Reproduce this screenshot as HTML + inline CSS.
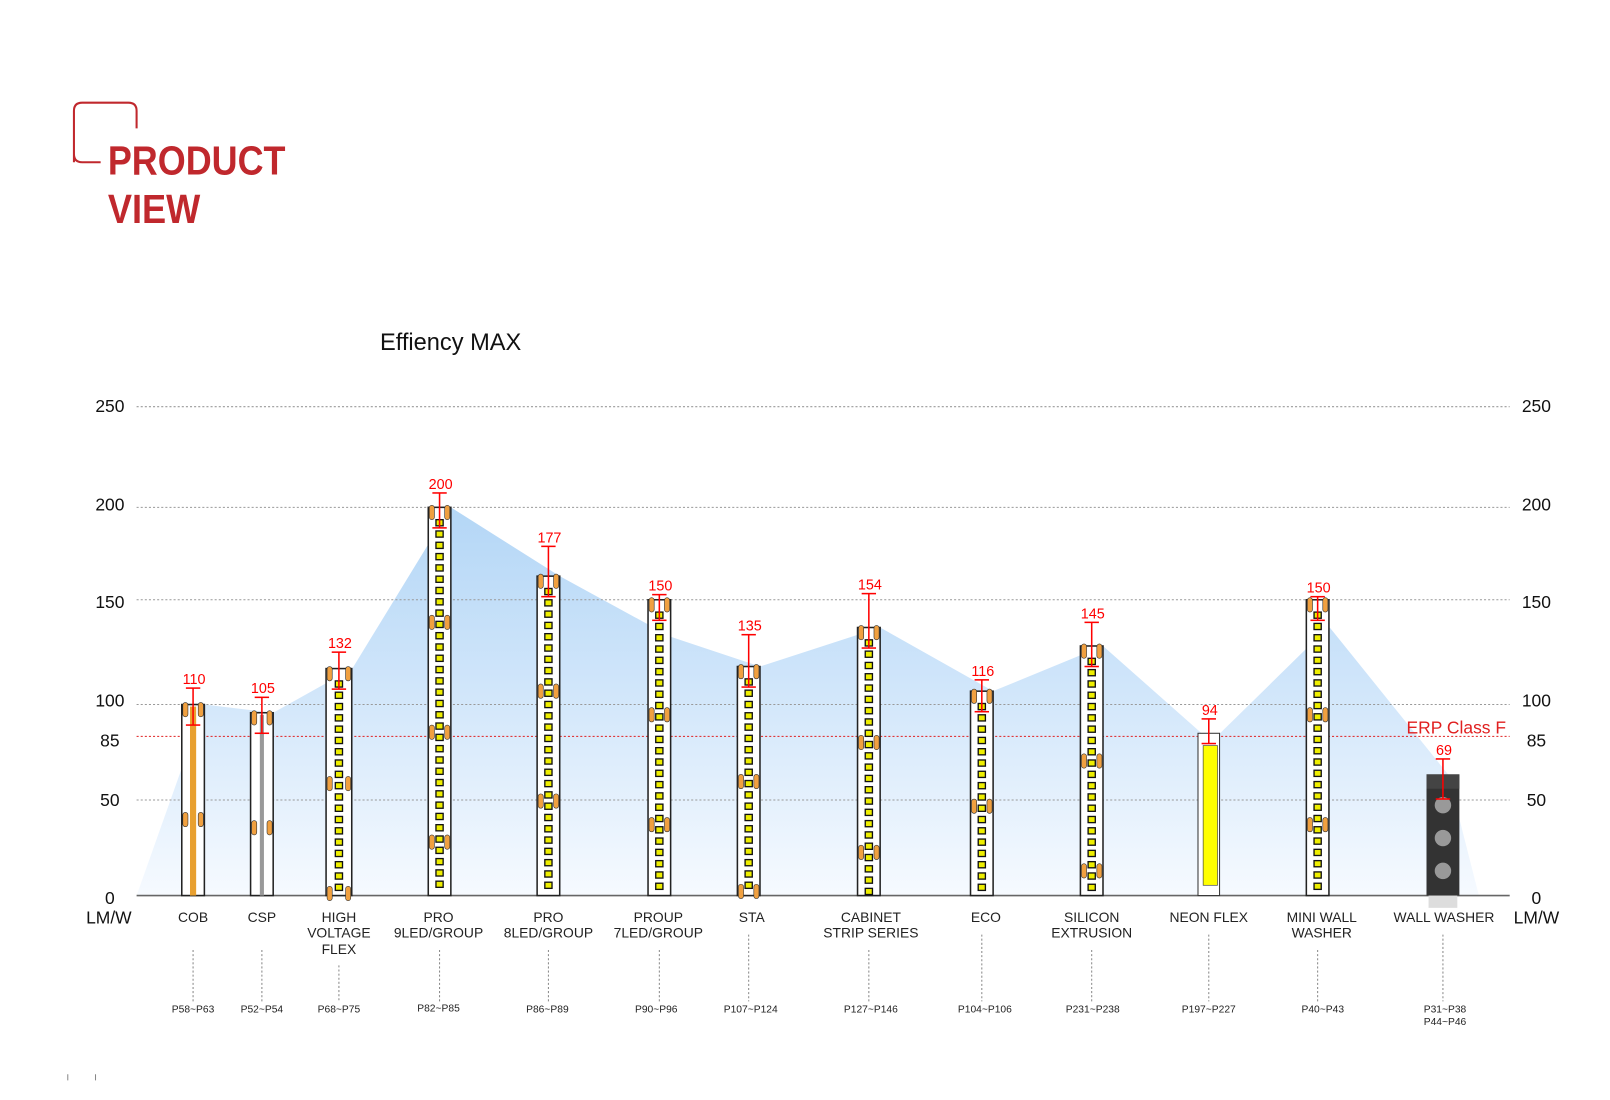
<!DOCTYPE html>
<html><head><meta charset="utf-8"><style>
html,body{margin:0;padding:0;background:#fff;}
body{width:1610px;height:1100px;overflow:hidden;position:relative;font-family:"Liberation Sans",sans-serif;}
#s{position:absolute;left:0;top:0;transform-origin:0 0;transform:scale(1.027);}
</style></head><body>
<svg id="s" width="1568" height="1071" xmlns="http://www.w3.org/2000/svg">
<defs>
<linearGradient id="g" gradientUnits="userSpaceOnUse" x1="0" y1="490" x2="0" y2="872">
<stop offset="0" stop-color="#b3d6f6"/><stop offset="0.45" stop-color="#cfe5fa"/><stop offset="1" stop-color="#f6faff"/>
</linearGradient>
</defs>
<path d="M72 158 V108 Q72 100 80 100 H125 Q133 100 133 108 V125 M72 150 Q72 158 80 158 H98" fill="none" stroke="#c0282d" stroke-width="2"/>
<text x="105" y="170" font-size="40" font-weight="bold" fill="#c0282d" textLength="173" lengthAdjust="spacingAndGlyphs">PRODUCT</text>
<text x="105" y="217" font-size="40" font-weight="bold" fill="#c0282d" textLength="90" lengthAdjust="spacingAndGlyphs">VIEW</text>
<text x="370" y="341" font-size="23" fill="#111">Effiency MAX</text>
<polygon points="133,872 199,686 266,694 343,651 439,494 545,561 653,620 740,649 857,611 967,673 1074,629 1170,714 1188,714 1294,610 1410,754 1440,872" fill="url(#g)"/>
<g stroke="#999" stroke-width="1" stroke-dasharray="2,2">
<line x1="133" y1="396" x2="1470" y2="396"/><line x1="133" y1="494" x2="1470" y2="494"/>
<line x1="133" y1="584" x2="1470" y2="584"/><line x1="133" y1="686" x2="1470" y2="686"/>
<line x1="133" y1="779" x2="1470" y2="779"/>
</g>
<line x1="133" y1="717" x2="1470" y2="717" stroke="#e02020" stroke-width="1" stroke-dasharray="2,2"/>
<line x1="133" y1="872" x2="1470" y2="872" stroke="#666" stroke-width="1.5"/>
<g font-size="17" fill="#111" text-anchor="middle">
<text x="107" y="401">250</text><text x="107" y="497">200</text><text x="107" y="592">150</text>
<text x="107" y="688">100</text><text x="107" y="727">85</text><text x="107" y="785">50</text><text x="107" y="880">0</text>
<text x="106" y="899">LM/W</text>
<text x="1496" y="401">250</text><text x="1496" y="497">200</text><text x="1496" y="592">150</text>
<text x="1496" y="688">100</text><text x="1496" y="727">85</text><text x="1496" y="785">50</text><text x="1496" y="880">0</text>
<text x="1496" y="899">LM/W</text>
</g>
<text x="1418" y="714" font-size="17" fill="#e02020" text-anchor="middle">ERP Class F</text>
<g id="bars"></g>
<g font-size="13.5" fill="#222" text-anchor="middle">
<text x="188" y="898">COB</text>
<text x="255" y="898">CSP</text>
<text x="330" y="898">HIGH</text><text x="330" y="913">VOLTAGE</text><text x="330" y="929">FLEX</text>
<text x="427" y="898">PRO</text><text x="427" y="913">9LED/GROUP</text>
<text x="534" y="898">PRO</text><text x="534" y="913">8LED/GROUP</text>
<text x="641" y="898">PROUP</text><text x="641" y="913">7LED/GROUP</text>
<text x="732" y="898">STA</text>
<text x="848" y="898">CABINET</text><text x="848" y="913">STRIP SERIES</text>
<text x="960" y="898">ECO</text>
<text x="1063" y="898">SILICON</text><text x="1063" y="913">EXTRUSION</text>
<text x="1177" y="898">NEON FLEX</text>
<text x="1287" y="898">MINI WALL</text><text x="1287" y="913">WASHER</text>
<text x="1406" y="898">WALL WASHER</text>
</g>
<g font-size="10" fill="#222" text-anchor="middle">
<text x="188" y="986">P58~P63</text><text x="255" y="986">P52~P54</text><text x="330" y="986">P68~P75</text>
<text x="427" y="985">P82~P85</text><text x="533" y="986">P86~P89</text><text x="639" y="986">P90~P96</text>
<text x="731" y="986">P107~P124</text><text x="848" y="986">P127~P146</text><text x="959" y="986">P104~P106</text>
<text x="1064" y="986">P231~P238</text><text x="1177" y="986">P197~P227</text><text x="1288" y="986">P40~P43</text>
<text x="1407" y="986">P31~P38</text><text x="1407" y="998">P44~P46</text>
</g>
<g stroke="#888" stroke-width="1" stroke-dasharray="2,2" id="arr"></g>
<g id="vals" font-size="14" fill="#f00" text-anchor="middle"></g>
<line x1="66" y1="1046" x2="66" y2="1052" stroke="#888"/><line x1="93" y1="1046" x2="93" y2="1052" stroke="#888"/>
</svg>
<script>
var NS="http://www.w3.org/2000/svg";
function el(p,t,a){var e=document.createElementNS(NS,t);for(var k in a)e.setAttribute(k,a[k]);p.appendChild(e);return e;}
var B=document.getElementById('bars'),V=document.getElementById('vals'),A=document.getElementById('arr');
var d=[["110",188,686,22,666,'cob',925],["105",255,694,22,675,'csp',925],["132",330,651,25,631,'led',940],
["200",428,494,22,476,'led',925],["177",534,561,22,528,'led',925],["150",642,584,22,575,'led',925],
["135",729,649,22,614,'led',910],["154",846,611,22,574,'led',925],["116",956,673,22,658,'led',910],
["145",1063,629,22,602,'led',925],["94",1177,714,21,696,'neon',910],["150",1283,584,22,577,'led',925],["69",1405,754,32,735,'ww',910]];
d.forEach(function(b){
 var x=b[1]-b[3]/2,t=b[2],w=b[3];
 if(b[5]=='ww'){el(B,'rect',{x:x,y:t,width:w,height:872-t,fill:'#333'});el(B,'rect',{x:x,y:t,width:w,height:14,fill:'#444'});
  el(B,'rect',{x:x+2,y:872,width:w-4,height:12,fill:'#ddd'});
  [784,816,848].forEach(function(y){el(B,'circle',{cx:b[1],cy:y,r:8,fill:'#999'});});}
 else if(b[5]=='neon'){el(B,'rect',{x:x,y:t,width:w,height:158,fill:'#fff',stroke:'#333'});
  el(B,'rect',{x:x+5,y:t+12,width:w-7,height:136,fill:'#ff0',stroke:'#333','stroke-width':0.6});}
 else{el(B,'rect',{x:x,y:t,width:w,height:872-t,fill:'#fff',stroke:'#222','stroke-width':1.5});
  if(b[5]=='cob'){el(B,'rect',{x:b[1]-3,y:t+2,width:6,height:870-t,fill:'#e8a030'});}
  else if(b[5]=='csp'){el(B,'rect',{x:b[1]-2,y:t+2,width:4,height:870-t,fill:'#999'});}
  else{for(var y=t+12;y<866;y+=11){el(B,'rect',{x:b[1]-3.5,y:y,width:7,height:6,fill:'#ee0',stroke:'#111','stroke-width':1.3});}}
  for(var y=t+4;y<870;y+=107){el(B,'rect',{x:x+1,y:y-6,width:5,height:14,rx:2.5,fill:'#f0a040',stroke:'#333','stroke-width':0.6});
   el(B,'rect',{x:x+w-6,y:y-6,width:5,height:14,rx:2.5,fill:'#f0a040',stroke:'#333','stroke-width':0.6});}
 }
 var tx=el(V,'text',{x:b[1]+1,y:b[4]});tx.textContent=b[0];
 var y1=b[4]+4,y2=b[5]=='ww'?778:t+(b[5]=='neon'?10:20);
 el(V,'line',{x1:b[1],y1:y1,x2:b[1],y2:y2,stroke:'#f00','stroke-width':1.5});
 el(V,'line',{x1:b[1]-7,y1:y1,x2:b[1]+7,y2:y1,stroke:'#f00','stroke-width':1.5});
 el(V,'line',{x1:b[1]-7,y1:y2,x2:b[1]+7,y2:y2,stroke:'#f00','stroke-width':1.5});
 el(A,'line',{x1:b[1],y1:b[6],x2:b[1],y2:975});
});
</script>
</body></html>
